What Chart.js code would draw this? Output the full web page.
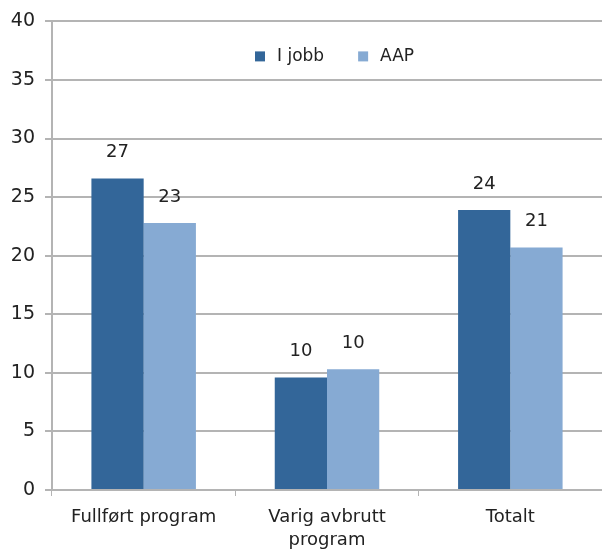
<!DOCTYPE html>
<html>
<head>
<meta charset="utf-8">
<script src="https://cdn.jsdelivr.net/npm/chart.js@4/dist/chart.umd.min.js"></script>
<style>
  html, body { margin: 0; padding: 0; background: #fff; }
  #wrap { width: 602px; height: 549px; }
</style>
</head>
<body>
<div id="wrap"><canvas id="chart"></canvas></div>
<script>
const categories = ['Fullført program', ['Varig avbrutt', 'program'], 'Totalt'];
const iJobb = [26.6, 9.6, 23.9];
const aap = [22.8, 10.3, 20.7];
const yTicks = [0, 5, 10, 15, 20, 25, 30, 35, 40];

const BLUE = '#336699';
const LIGHT = '#86aad3';
const GRID = '#b4b4b4';
const TEXT = '#222222';
const FONT = '"DejaVu Sans", sans-serif';

// value labels above each bar
const valueLabels = {
  id: 'valueLabels',
  afterDatasetsDraw(chart) {
    const ctx = chart.ctx;
    ctx.save();
    ctx.font = '18px ' + FONT;
    ctx.fillStyle = TEXT;
    ctx.textAlign = 'center';
    ctx.textBaseline = 'middle';
    chart.data.datasets.forEach((ds, i) => {
      chart.getDatasetMeta(i).data.forEach((bar, j) => {
        ctx.fillText(Math.round(ds.data[j]), bar.x, bar.y - 26);
      });
    });
    ctx.restore();
  }
};

// legend drawn inside the plot area
const innerLegend = {
  id: 'innerLegend',
  afterDraw(chart) {
    const ctx = chart.ctx;
    const area = chart.chartArea;
    const y = area.top + 35;
    ctx.save();
    ctx.font = '17px ' + FONT;
    ctx.textBaseline = 'middle';
    ctx.textAlign = 'left';
    let x = area.left + 203;
    chart.data.datasets.forEach(ds => {
      ctx.fillStyle = ds.backgroundColor;
      ctx.fillRect(x, y - 5, 10, 10);
      ctx.fillStyle = TEXT;
      ctx.fillText(ds.label, x + 22, y);
      x += 22 + ctx.measureText(ds.label).width + 34;
    });
    ctx.restore();
  }
};

new Chart(document.getElementById('chart'), {
  type: 'bar',
  data: {
    labels: categories,
    datasets: [
      { label: 'I jobb', data: iJobb, backgroundColor: BLUE },
      { label: 'AAP', data: aap, backgroundColor: LIGHT }
    ]
  },
  options: {
    responsive: true,
    maintainAspectRatio: false,
    animation: false,
    layout: { padding: { top: 14, right: 0, left: 0, bottom: 0 } },
    datasets: { bar: { categoryPercentage: 0.57, barPercentage: 1.0 } },
    plugins: {
      legend: { display: false },
      tooltip: { enabled: false }
    },
    scales: {
      x: {
        grid: {
          display: true,
          drawOnChartArea: false,
          drawTicks: true,
          tickLength: 6,
          color: GRID,
          offset: true
        },
        border: { color: GRID, width: 2 },
        ticks: {
          color: TEXT,
          font: { family: FONT, size: 18, lineHeight: 1.28 },
          padding: 10,
          maxRotation: 0
        },
        // the second line of the middle label runs off the bottom, as in the original
        afterFit: axis => { axis.height = 59; }
      },
      y: {
        min: 0,
        max: 40,
        afterBuildTicks: axis => { axis.ticks = yTicks.map(v => ({ value: v })); },
        grid: { color: GRID, lineWidth: 2, tickLength: 7 },
        border: { color: GRID, width: 2 },
        ticks: {
          color: TEXT,
          font: { family: FONT, size: 19 },
          padding: 10
        },
        afterFit: axis => { axis.width = 52; }
      }
    }
  },
  plugins: [valueLabels, innerLegend]
});
</script>
</body>
</html>
